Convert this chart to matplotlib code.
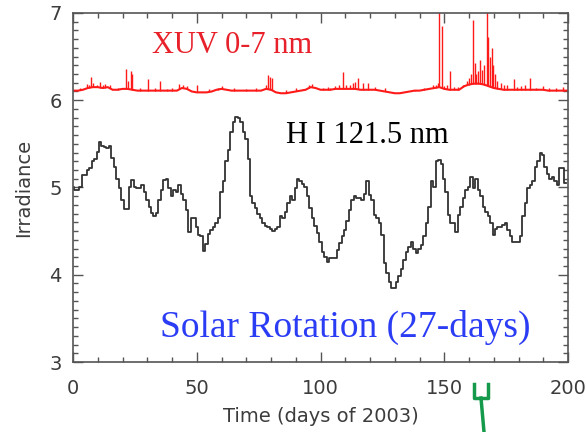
import numpy as np
import matplotlib
matplotlib.use('Agg')
import matplotlib.pyplot as plt
from matplotlib.ticker import MultipleLocator
from matplotlib.lines import Line2D

# H I 121.5 nm daily irradiance, days 0..199
HI_VALUES = [
    5.00, 4.97, 4.97, 5.00, 5.14, 5.14, 5.20, 5.22, 5.30, 5.33,
    5.41, 5.52, 5.48, 5.46, 5.45, 5.47, 5.34, 5.24, 5.10, 4.99,
    4.86, 4.75, 4.75, 5.00, 5.09, 5.00, 4.99, 4.99, 5.03, 4.95,
    4.86, 4.78, 4.71, 4.67, 4.71, 4.86, 4.97, 5.09, 5.10, 4.99,
    4.90, 4.97, 4.95, 5.03, 4.92, 4.86, 4.74, 4.49, 4.65, 4.65,
    4.55, 4.45, 4.44, 4.27, 4.35, 4.47, 4.51, 4.55, 4.59, 4.65,
    4.95, 5.07, 5.30, 5.43, 5.64, 5.75, 5.81, 5.80, 5.75, 5.64,
    5.56, 5.33, 4.90, 4.82, 4.76, 4.70, 4.65, 4.59, 4.56, 4.55,
    4.53, 4.50, 4.53, 4.55, 4.67, 4.65, 4.72, 4.82, 4.90, 4.86,
    4.99, 5.10, 5.07, 5.04, 5.00, 4.90, 4.76, 4.65, 4.56, 4.48,
    4.38, 4.26, 4.20, 4.15, 4.19, 4.19, 4.19, 4.28, 4.36, 4.44,
    4.51, 4.62, 4.74, 4.86, 4.90, 4.88, 4.88, 4.86, 4.93, 5.07,
    4.91, 4.86, 4.69, 4.65, 4.59, 4.46, 4.13, 4.02, 3.92, 3.85,
    3.85, 3.92, 3.98, 4.07, 4.17, 4.26, 4.32, 4.38, 4.30, 4.25,
    4.30, 4.34, 4.44, 4.59, 4.78, 5.07, 5.00, 5.30, 5.32, 5.27,
    5.10, 4.95, 4.69, 4.59, 4.59, 4.49, 4.69, 4.78, 4.88, 4.97,
    5.01, 5.12, 4.99, 5.10, 4.97, 4.90, 4.78, 4.72, 4.67, 4.59,
    4.46, 4.53, 4.55, 4.55, 4.57, 4.59, 4.51, 4.44, 4.38, 4.38,
    4.38, 4.44, 4.67, 4.82, 4.99, 5.03, 5.07, 5.24, 5.30, 5.39,
    5.37, 5.24, 5.16, 5.10, 5.12, 5.07, 5.03, 5.22, 5.22, 5.05,
]
HI_DAYS = np.arange(len(HI_VALUES))

# XUV 0-7 nm background level every 2 days (0..200)
XUV_BASE_DAYS = np.arange(0, 201, 2)
XUV_BASE = [
    6.11, 6.11, 6.12, 6.14, 6.15, 6.15, 6.14, 6.15, 6.12, 6.12,
    6.13, 6.13, 6.12, 6.11, 6.11, 6.11, 6.11, 6.11, 6.11, 6.11,
    6.11, 6.11, 6.14, 6.13, 6.10, 6.09, 6.09, 6.09, 6.10, 6.12,
    6.13, 6.12, 6.11, 6.11, 6.11, 6.11, 6.11, 6.11, 6.11, 6.13,
    6.12, 6.09, 6.08, 6.08, 6.09, 6.10, 6.11, 6.12, 6.15, 6.14,
    6.12, 6.12, 6.12, 6.13, 6.13, 6.13, 6.13, 6.13, 6.12, 6.12,
    6.12, 6.12, 6.11, 6.10, 6.09, 6.08, 6.08, 6.09, 6.10, 6.11,
    6.11, 6.12, 6.13, 6.14, 6.15, 6.13, 6.12, 6.12, 6.12, 6.16,
    6.18, 6.19, 6.19, 6.18, 6.16, 6.14, 6.13, 6.12, 6.12, 6.12,
    6.12, 6.12, 6.12, 6.12, 6.12, 6.12, 6.11, 6.11, 6.11, 6.11,
    6.11,
]

# XUV flare spikes: day and peak irradiance
SPIKE_DAYS = [
    3.0, 5.5, 6.4, 7.3, 8.2, 9.5, 11.0, 12.2, 13.0, 15.0, 18.0, 21.5, 22.4,
    23.4, 24.0, 27.0, 30.4, 33.0, 35.1, 38.0, 40.0, 43.0, 44.5, 46.0, 50.0,
    55.0, 58.5, 60.0, 65.0, 70.0, 74.0, 78.0, 78.9, 79.5, 80.2, 86.0, 90.0,
    93.0, 95.5, 96.5, 101.0, 103.0, 104.0, 106.0, 107.3, 109.0, 110.5,
    112.0, 113.2, 114.0, 115.3, 117.0, 119.0, 122.0, 126.0, 138.0, 142.0,
    145.5, 146.5, 147.5, 148.0, 149.2, 150.0, 151.2, 152.3, 154.0, 155.5,
    157.7, 159.0, 160.0, 161.0, 161.6, 162.4, 163.0, 163.6, 164.4, 165.2,
    166.2, 167.1, 167.8, 168.4, 169.1, 169.8, 170.5, 171.5, 173.0, 174.2,
    175.5, 178.2, 179.5, 181.0, 182.5, 184.5, 187.0, 190.0, 192.5, 195.0,
    198.0,
]
SPIKE_PEAKS = [
    6.14, 6.19, 6.17, 6.27, 6.20, 6.18, 6.21, 6.17, 6.19, 6.17, 6.14, 6.36,
    6.22, 6.33, 6.30, 6.14, 6.24, 6.14, 6.22, 6.13, 6.14, 6.19, 6.18, 6.16,
    6.17, 6.13, 6.14, 6.16, 6.14, 6.13, 6.14, 6.18, 6.29, 6.27, 6.25, 6.12,
    6.14, 6.13, 6.18, 6.19, 6.14, 6.15, 6.14, 6.16, 6.17, 6.32, 6.18,
    6.17, 6.20, 6.21, 6.26, 6.20, 6.20, 6.15, 6.14, 6.12, 6.14,
    6.17, 6.18, 6.20, 7.10, 6.85, 6.16, 6.18, 6.34, 6.15, 6.15,
    6.17, 6.22, 6.25, 6.30, 6.92, 6.43, 6.30, 6.33, 6.46, 6.35,
    6.40, 7.10, 6.72, 6.50, 6.60, 6.40, 6.30, 6.22, 6.20, 6.17,
    6.18, 6.24, 6.15, 6.16, 6.18, 6.26, 6.14, 6.16, 6.14, 6.14,
    6.15,
]

fig = plt.figure(figsize=(5.86, 4.32), dpi=100)
ax = fig.add_axes([0.1246, 0.162, 0.8447, 0.808])

# XUV
spike_base = np.interp(SPIKE_DAYS, XUV_BASE_DAYS, XUV_BASE)
ax.vlines(SPIKE_DAYS, spike_base, SPIKE_PEAKS, color='#ff1a1a', linewidth=1.0)
ax.plot(XUV_BASE_DAYS, XUV_BASE, color='#ff1a1a', linewidth=1.5)

# H I Lyman alpha
ax.step(HI_DAYS, HI_VALUES, where='mid', color='#333333', linewidth=1.3)

ax.set_xlim(0, 200)
ax.set_ylim(3, 7)
ax.xaxis.set_major_locator(MultipleLocator(50))
ax.xaxis.set_minor_locator(MultipleLocator(10))
ax.yaxis.set_major_locator(MultipleLocator(1))
ax.yaxis.set_minor_locator(MultipleLocator(0.1))
ax.tick_params(which='both', direction='in', top=True, right=True,
               color='#555555', width=1.0)
ax.tick_params(which='major', length=7, labelsize=14, labelcolor='#3c3c3c')
ax.tick_params(axis='x', which='major', pad=12)
ax.tick_params(axis='y', which='major', pad=8)
ax.tick_params(which='minor', length=3.5)
for sp in ax.spines.values():
    sp.set_color('#555555')
    sp.set_linewidth(1.2)

ax.set_xlabel('Time (days of 2003)', fontsize=14, color='#3c3c3c', labelpad=7)
ax.set_ylabel('Irradiance', fontsize=14, color='#3c3c3c', labelpad=12)

serif = ['Liberation Serif', 'DejaVu Serif']
ax.text(32, 6.54, 'XUV 0-7 nm', color='#e8202a', fontsize=22, family=serif)
ax.text(86.0, 5.51, 'H I 121.5 nm', color='black', fontsize=22, family=serif)
ax.text(35.2, 3.29, 'Solar Rotation (27-days)', color='#2b3cf5', fontsize=27,
        family=serif)

# green bracket marker under the axis (figure pixel coordinates)
W, H = 586.0, 432.0
green = '#149a4a'
for xs, ys in [([474, 474, 488, 488], [384, 398, 398, 384]),
               ([481, 484], [398, 432])]:
    fig.add_artist(Line2D(np.array(xs) / W, 1 - np.array(ys) / H,
                          color=green, linewidth=2.5, transform=fig.transFigure))

fig.savefig('out.png', dpi=100)
